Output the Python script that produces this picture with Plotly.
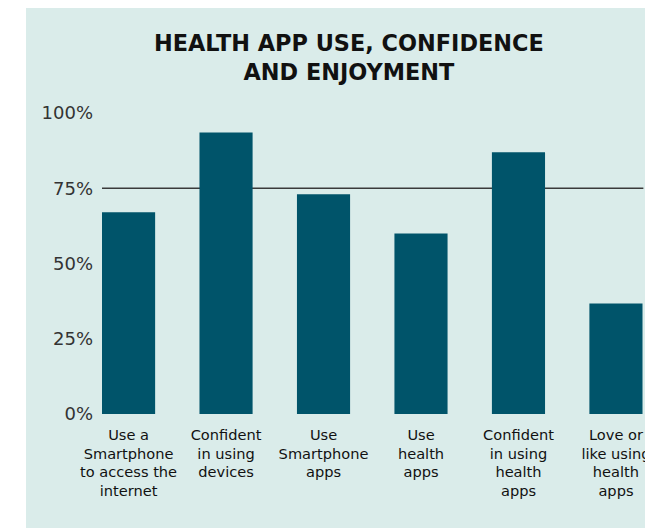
import plotly.graph_objects as go

categories = [
    "Use a<br>Smartphone<br>to access the<br>internet",
    "Confident<br>in using<br>devices",
    "Use<br>Smartphone<br>apps",
    "Use<br>health<br>apps",
    "Confident<br>in using<br>health<br>apps",
    "Love or<br>like using<br>health<br>apps",
]
values = [67, 93.5, 73, 60, 87, 36.7]
y_ticks = [0, 25, 50, 75, 100]
y_tick_labels = ["0%", "25%", "50%", "75%", "100%"]
title_text = "HEALTH APP USE, CONFIDENCE<br>AND ENJOYMENT"

BG = "#daecea"
BAR = "#00546a"

fig = go.Figure(go.Bar(
    x=list(range(len(categories))),
    y=values,
    marker=dict(color=BAR, line=dict(width=0)),
    width=0.545,
    hoverinfo="skip",
))

L, R, T, B = 102, 0, 113, 114
W, H = 645, 528
ph = H - T - B
pw = W - L - R

fig.update_layout(
    width=W, height=H,
    margin=dict(l=L, r=R, t=T, b=B, autoexpand=False),
    paper_bgcolor="white",
    plot_bgcolor="rgba(0,0,0,0)",
    showlegend=False,
    xaxis=dict(
        range=[-0.2725, 5.298],
        tickmode="array",
        tickvals=list(range(len(categories))),
        ticktext=categories,
        showgrid=False, zeroline=False, showline=False,
        ticks="outside", ticklen=7, tickcolor="rgba(0,0,0,0)",
        ticklabeloverflow="allow",
        tickfont=dict(family="DejaVu Sans", size=14.6, color="#111111"),
        fixedrange=True,
    ),
    yaxis=dict(
        range=[0, 100],
        tickmode="array",
        tickvals=y_ticks,
        ticktext=y_tick_labels,
        showgrid=False, zeroline=False, showline=False,
        ticks="", ticklabelstandoff=8,
        tickfont=dict(family="DejaVu Sans", size=18, color="#333333"),
        fixedrange=True,
    ),
    shapes=[
        dict(type="rect", xref="paper", yref="paper",
             x0=(26 - L) / pw, x1=1.01, y0=(T + ph - H) / ph, y1=(T + ph - 8) / ph,
             fillcolor=BG, line=dict(width=0), layer="below"),
        dict(type="line", xref="paper", yref="y", x0=0, x1=0.997, y0=75, y1=75,
             line=dict(color="#3a3a3a", width=1.5), layer="below"),
    ],
    annotations=[
        dict(text=title_text, xref="paper", yref="paper",
             x=(349 - L) / pw, y=(T + ph - 57.5) / ph, xanchor="center", yanchor="middle",
             showarrow=False, align="center",
             font=dict(family="DejaVu Sans", size=22.4, color="#111111", weight="bold")),
    ],
)

fig.write_html("out.html")
